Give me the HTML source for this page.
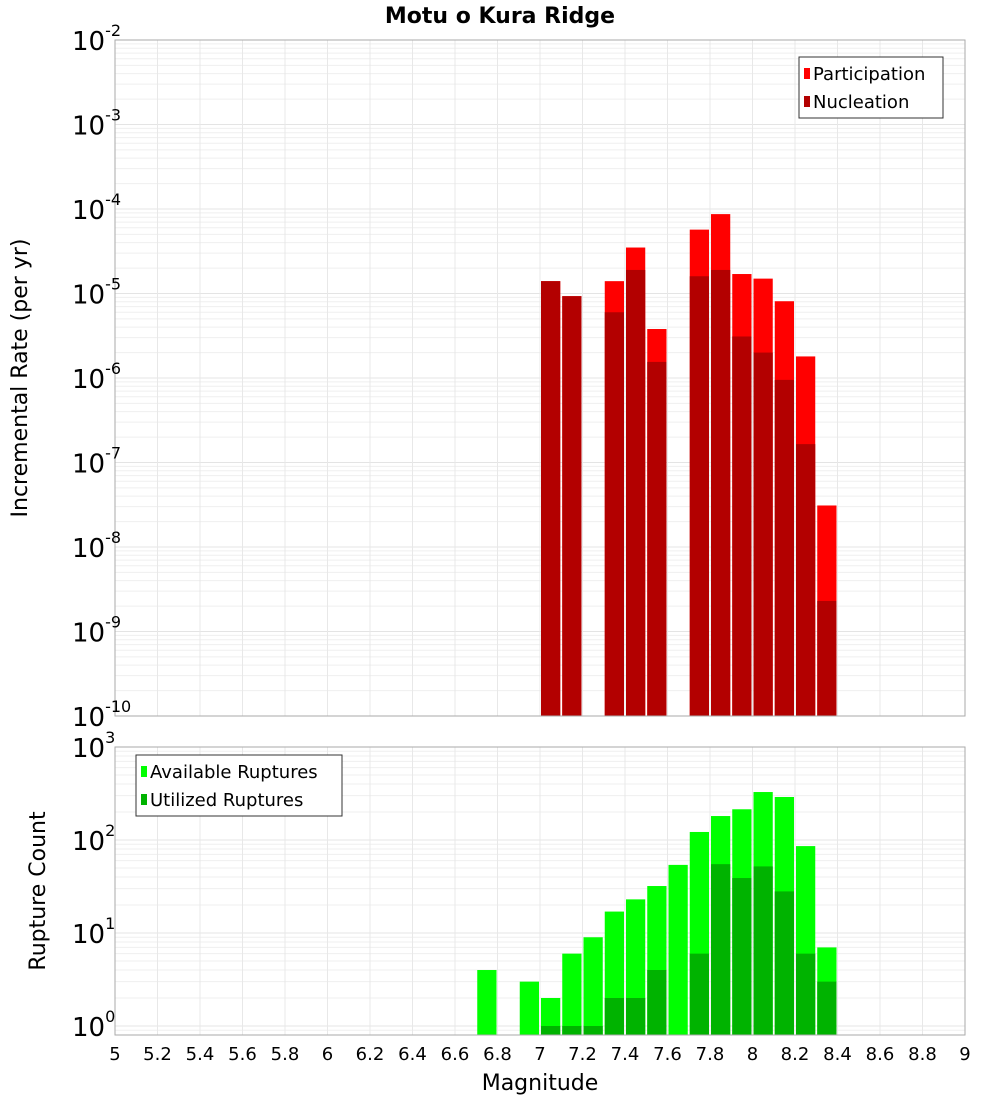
<!DOCTYPE html>
<html><head><meta charset="utf-8"><style>
body{margin:0;background:#fff;}
svg{font-family:"DejaVu Sans","Liberation Sans",sans-serif;}
</style></head><body>
<svg id="c" width="1000" height="1100" xmlns="http://www.w3.org/2000/svg">
<text x="500" y="23" text-anchor="middle" font-size="22" font-weight="bold">Motu o Kura Ridge</text>
<g id="top"></g>
<g id="bot"></g>
<text transform="translate(27,378) rotate(-90)" text-anchor="middle" font-size="22">Incremental Rate (per yr)</text>
<text transform="translate(45,891) rotate(-90)" text-anchor="middle" font-size="22">Rupture Count</text>
<text x="540" y="1090" text-anchor="middle" font-size="22">Magnitude</text>
</svg>
<script>
const mags=[6.75,6.95,7.05,7.15,7.25,7.35,7.45,7.55,7.65,7.75,7.85,7.95,8.05,8.15,8.25,8.35];
const participation=[0,0,1.4e-5,9.3e-6,0,1.4e-5,3.5e-5,3.8e-6,0,5.7e-5,8.7e-5,1.7e-5,1.5e-5,8.1e-6,1.8e-6,3.1e-8];
const nucleation=[0,0,1.4e-5,9.3e-6,0,6e-6,1.9e-5,1.55e-6,0,1.6e-5,1.9e-5,3.1e-6,2e-6,9.5e-7,1.65e-7,2.3e-9];
const available=[4,3,2,6,9,17,23,32,54,122,181,214,328,290,86,7];
const utilized=[0,0,1,1,1,2,2,4,0,6,55,39,52,28,6,3];
const xTicks=[5,5.2,5.4,5.6,5.8,6,6.2,6.4,6.6,6.8,7,7.2,7.4,7.6,7.8,8,8.2,8.4,8.6,8.8,9];
const topExp=[-2,-3,-4,-5,-6,-7,-8,-9,-10];
const botExp=[3,2,1,0];

const NS="http://www.w3.org/2000/svg";
const X0=115,X1=965;
const xs=m=>X0+(m-5)/4*(X1-X0);
const yTop=v=>40+(-2-Math.log10(v))*84.5;
const yBot=v=>1026-Math.log10(v)*93;
function el(p,t,a){const e=document.createElementNS(NS,t);for(const k in a)e.setAttribute(k,a[k]);p.appendChild(e);return e;}

function panel(g,y0,y1,yf,minE,maxE,ymin,exps,series,leg,legX,legY){
  el(g,'rect',{x:X0,y:y0,width:X1-X0,height:y1-y0,fill:'#fff'});
  for(let e=minE;e<maxE;e++)for(let k=1;k<10;k++){const v=k*Math.pow(10,e);const y=yf(v);if(y<y0||y>y1)continue;
    const l=el(g,'line',{x1:X0,x2:X1,y1:y,y2:y,stroke:k==1?'#e4e4e4':'#efefef','stroke-width':1});
    }
  xTicks.forEach(t=>{const x=xs(t);const l=el(g,'line',{x1:x,x2:x,y1:y0,y2:y1,stroke:'#e8e8e8'});
    });
  series.forEach(s=>{mags.forEach((m,i)=>{const v=s.vals[i];if(!v)return;const yt=yf(v);
    const r=el(g,'rect',{x:xs(m-0.05)+1,y:yt,width:xs(m+0.05)-xs(m-0.05)-2,height:y1-yt,fill:s.color});
    });});
  el(g,'rect',{x:X0,y:y0,width:X1-X0,height:y1-y0,fill:'none',stroke:'#aaa'});
  exps.forEach(e=>{const y=yf(Math.pow(10,e));const t=el(g,'text',{x:72,y:y+10,'font-size':26});
    
    t.textContent='10';const s=el(t,'tspan',{dy:-14,'font-size':16});s.textContent=String(e);});
  const lg=el(g,'g',{});
  el(lg,'rect',{x:legX,y:legY,width:leg.w,height:61,fill:'#fff',stroke:'#333'});
  leg.items.forEach((it,i)=>{const yy=legY+19+i*28;
    el(lg,'rect',{x:legX+5,y:yy-8,width:6,height:11,fill:it.c});
    const t=el(lg,'text',{x:legX+14,y:yy+4,'font-size':18});t.textContent=it.t;
    });
}
panel(document.getElementById('top'),40,716,yTop,-10,-2,1e-10,topExp,
 [{vals:participation,color:'#ff0000',name:'participation'},{vals:nucleation,color:'#b30000',name:'nucleation'}],
 {w:144,items:[{c:'#ff0000',t:'Participation'},{c:'#b30000',t:'Nucleation'}]},799,57);
panel(document.getElementById('bot'),747,1035,yBot,-1,3,0.8,botExp,
 [{vals:available,color:'#00ff00',name:'available'},{vals:utilized,color:'#00b300',name:'utilized'}],
 {w:206,items:[{c:'#00ff00',t:'Available Ruptures'},{c:'#00b300',t:'Utilized Ruptures'}]},136,755);
const svg=document.getElementById('c');
xTicks.forEach(t=>{const e=el(svg,'text',{x:xs(t),y:1060,'text-anchor':'middle','font-size':18});
  
  e.textContent=String(t);});
</script>
</body></html>
